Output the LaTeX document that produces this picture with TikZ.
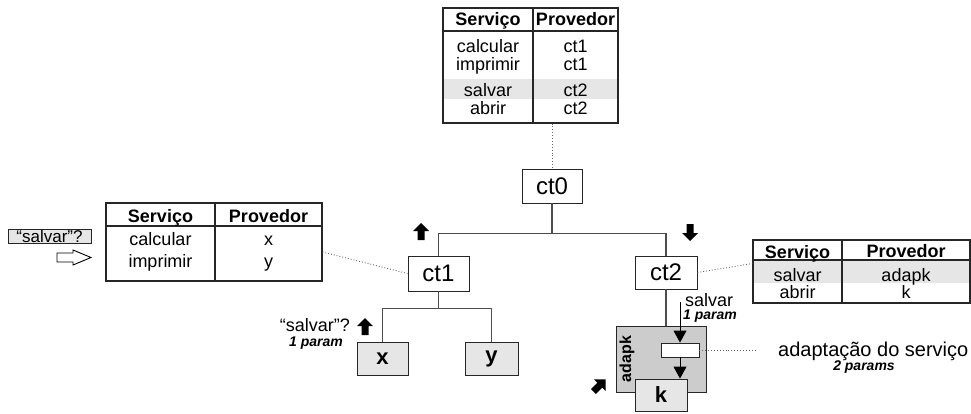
\documentclass[tikz,border=0pt]{standalone}
\usepackage{fontspec}
\setmainfont{Liberation Sans}
\usetikzlibrary{arrows.meta,positioning,calc}
\definecolor{rowshade}{HTML}{E6E6E6}
\definecolor{leaffill}{HTML}{E6E6E6}
\definecolor{adafill}{HTML}{CCCCCC}
\definecolor{treegray}{HTML}{4D4D4D}
\newcommand{\fsz}[1]{\fontsize{#1}{#1}\selectfont}
\tikzset{
  ctbox/.style={draw=black!85,fill=white,line width=0.9pt,inner sep=0pt,font=\fsz{24}},
  leafbox/.style={draw=black!85,fill=leaffill,line width=0.9pt,inner sep=0pt,font=\bfseries\fsz{22}},
  tabframe/.style={draw=black!85,line width=1.1pt,inner sep=0pt},
  tabline/.style={draw=black!85,line width=1.1pt},
  tabtxt/.style={font=\fsz{18},inner sep=0pt},
  tabhead/.style={font=\bfseries\fsz{18},inner sep=0pt},
  lbl/.style={font=\fsz{18},inner sep=0pt},
  param/.style={font=\bfseries\itshape\fsz{14},inner sep=0pt},
  tree/.style={draw=treegray,line width=1.4pt},
  dotline/.style={dotted,line width=0.9pt,black!60},
  flow/.style={-{Triangle[width=13pt,length=12pt]},line width=0.9pt,black},
  blockarrow/.pic={\fill[black] (0,-8.5) -- (8,-0.5) -- (3.5,-0.5) -- (3.5,8.5) -- (-3.5,8.5) -- (-3.5,-0.5) -- (-8,-0.5) -- cycle;},
  hollowarrow/.pic={\draw[fill=white,line width=0.9pt] (-17,-4.5) -- (-1,-4.5) -- (-1,-7.5) -- (17,0) -- (-1,7.5) -- (-1,4.5) -- (-17,4.5) -- cycle;}
}

\begin{document}
\begin{tikzpicture}[x=1pt,y=-1pt]
  \useasboundingbox (0,0) rectangle (971,413);

  % registry of ct0
  \fill[rowshade] (443,79) rectangle (618,99);
  \node[tabframe,minimum width=175,minimum height=115] (ttop) at (530.5,65.5) {};
  \draw[tabline] (443,31) -- (618,31) (533,8) -- (533,123);
  \node[tabhead,anchor=base] (ttsh) at (488,25) {Serviço};
  \node[tabhead,anchor=base] (ttph) at (575.5,25) {Provedor};
  \foreach \svc/\prov/\yb [count=\i] in {calcular/ct1/52,imprimir/ct1/70,salvar/ct2/96,abrir/ct2/114}{
    \node[tabtxt,anchor=base] (tts\i) at (488,\yb) {\svc};
    \node[tabtxt,anchor=base] (ttp\i) at (575.5,\yb) {\prov};
  }

  % registry of ct1
  \node[tabframe,minimum width=216,minimum height=78] (tleft) at (214,242) {};
  \draw[tabline] (106,226) -- (322,226) (215,203) -- (215,281);
  \node[tabhead,anchor=base] (tlsh) at (160.5,222) {Serviço};
  \node[tabhead,anchor=base] (tlph) at (268.5,222) {Provedor};
  \foreach \svc/\prov/\yb [count=\i] in {calcular/x/245,imprimir/y/267}{
    \node[tabtxt,anchor=base] (tls\i) at (160.5,\yb) {\svc};
    \node[tabtxt,anchor=base] (tlp\i) at (268.5,\yb) {\prov};
  }

  % registry of ct2
  \fill[rowshade] (753,260) rectangle (970,283);
  \node[tabframe,minimum width=217,minimum height=63] (tright) at (861.5,271.5) {};
  \draw[tabline] (753,260) -- (970,260) (842,240) -- (842,303);
  \node[tabhead,anchor=base] (trsh) at (797.5,258) {Serviço};
  \node[tabhead,anchor=base] (trph) at (906,257) {Provedor};
  \foreach \svc/\prov/\yb [count=\i] in {salvar/adapk/281,abrir/k/298}{
    \node[tabtxt,anchor=base] (trs\i) at (797.5,\yb) {\svc};
    \node[tabtxt,anchor=base] (trp\i) at (906,\yb) {\prov};
  }

  % components
  \node[ctbox,minimum width=60,minimum height=34] (ct0) at (552,186) {ct0};
  \node[ctbox,minimum width=61,minimum height=35] (ct1) at (438.5,273.5) {ct1};
  \node[ctbox,minimum width=62,minimum height=33] (ct2) at (666,272.5) {ct2};
  \node[leafbox,minimum width=51,minimum height=33] (lx) at (382.5,358.5) {x};
  \node[leafbox,minimum width=53,minimum height=33] (ly) at (491.5,358.5) {y};
  \node[draw=black!85,fill=adafill,line width=0.9pt,minimum width=90,minimum height=66,inner sep=0pt] (ada) at (661,359) {};
  \node[font=\bfseries\fsz{16},rotate=90,inner sep=0pt] (adalbl) at (627,359) {adapk};
  \node[draw=black!85,fill=white,line width=0.9pt,minimum width=38,minimum height=14,inner sep=0pt] (adrect) at (680,350) {};
  \node[leafbox,minimum width=52,minimum height=32] (kbox) at (661,395) {k};

  % tree
  \draw[tree] (ct0.south) -- ++(0,30) coordinate (split0);
  \draw[tree] (ct1.north) |- (split0) -| (ct2.north);
  \draw[tree] (ct1.south) -- ++(0,17) coordinate (split1);
  \draw[tree] (lx.north) |- (split1) -| (ly.north);
  \draw[tree] (ct2.south) -- (ct2.south |- ada.north);

  % registries
  \draw[dotline] (ct0.north |- ttop.south) -- (ct0.north);
  \draw[dotline] ([yshift=-10pt]tleft.east) -- (ct1.west);
  \draw[dotline] (ct2.east) -- ([yshift=8pt]tright.west);

  % request through adapk
  \coordinate (salvin) at (680,302);
  \draw[flow] (salvin) -- (adrect.north);
  \draw[flow] (adrect.south) -- (adrect.south |- kbox.north);
  \node[lbl,anchor=base west] (salvlbl) at (685,306) {salvar};
  \node[param,anchor=base west] (p1b) at (683,319) {1 param};
  \coordinate (adend) at (755,350);
  \draw[dotline] (adrect.east) -- (adend);
  \node[lbl,font=\fsz{20},anchor=base west] (adtxt) at (778,356) {adaptação do serviço};
  \node[param,anchor=base] (p2) at (864,370) {2 params};

  % query on x
  \node[lbl,anchor=base east] (qx) at (350,331) {“salvar”?};
  \node[param,anchor=base east] (p1a) at (343,346) {1 param};

  % incoming query
  \node[draw=black!85,fill=rowshade,line width=0.9pt,minimum width=83,minimum height=14,inner sep=0pt,font=\fsz{17}] (qleft) at (49.5,236) {“salvar”?};
  \pic at (74,257.5) {hollowarrow};

  % direction marks
  \pic at (421,231.5) {blockarrow};
  \pic[rotate=180] at (690,232.5) {blockarrow};
  \pic at (365,326.5) {blockarrow};
  \pic[rotate=-45] at (599.5,385.5) {blockarrow};
\end{tikzpicture}
\end{document}
